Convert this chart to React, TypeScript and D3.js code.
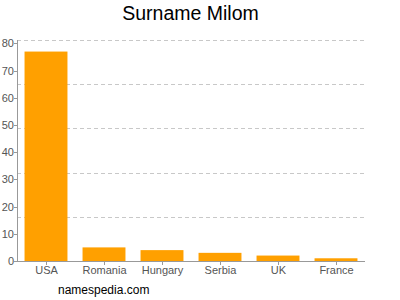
import React from "react";
import * as d3 from "d3";

const categories = ["USA", "Romania", "Hungary", "Serbia", "UK", "France"];
const values = [77, 5, 4, 3, 2, 1];
const yTicks = [0, 10, 20, 30, 40, 50, 60, 70, 80];
const title = "Surname Milom";
const footer = "namespedia.com";

export default function App() {
  const W = 400, H = 300;
  const left = 17, right = 365, top = 40, bottom = 261;
  const x = d3.scaleBand<string>().domain(categories).range([left, right]).paddingInner(0.26).paddingOuter(0.13);
  const y = d3.scaleLinear().domain([0, 81.25]).range([bottom, top]);
  const gridCount = 5;
  const grid = d3.range(gridCount).map((i) => top + ((bottom - top) / gridCount) * i);
  const font = "Liberation Sans, Arial, sans-serif";
  return (
    <svg width={W} height={H} style={{ position: "absolute", left: 0, top: 0 }} fontFamily={font}>
      <rect width={W} height={H} fill="#fff" />
      <text x={190.5} y={20} textAnchor="middle" fontSize={19.5} fill="#000">{title}</text>
      {grid.map((g, i) => (
        <line key={i} x1={left} x2={right} y1={Math.round(g) + 0.5} y2={Math.round(g) + 0.5} stroke="#c8c8c8" strokeDasharray="4,3" />
      ))}
      {categories.map((c, i) => (
        <rect key={c} x={x(c)} y={y(values[i])} width={x.bandwidth()} height={y(0) - y(values[i])} fill="#ffa000" />
      ))}
      <line x1={left + 0.5} x2={left + 0.5} y1={top} y2={bottom} stroke="#999" />
      <line x1={left} x2={right} y1={bottom + 0.5} y2={bottom + 0.5} stroke="#999" />
      {yTicks.map((t) => (
        <g key={t}>
          <line x1={left - 3} x2={left} y1={Math.round(y(t)) + 0.5} y2={Math.round(y(t)) + 0.5} stroke="#999" />
          <text x={left - 3} y={y(t) + 4} textAnchor="end" fontSize={11} fill="#555">{t}</text>
        </g>
      ))}
      {categories.map((c) => {
        const cx = Math.round((x(c) as number) + x.bandwidth() / 2) + 0.5;
        return (
          <g key={c}>
            <line x1={cx} x2={cx} y1={bottom} y2={bottom + 4} stroke="#999" />
            <text x={cx} y={bottom + 13} textAnchor="middle" fontSize={11} fill="#555">{c}</text>
          </g>
        );
      })}
      <text x={58} y={294} fontSize={12} fill="#000">{footer}</text>
    </svg>
  );
}
